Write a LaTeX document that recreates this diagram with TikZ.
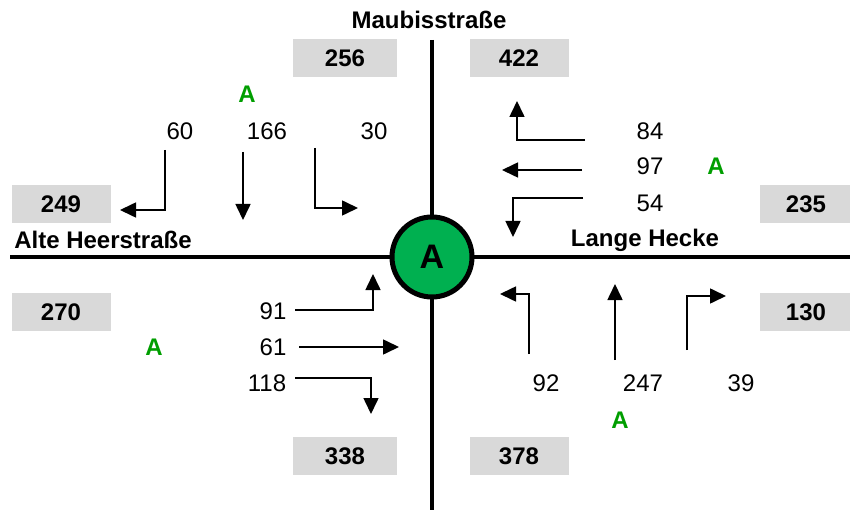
\documentclass[tikz,border=0pt]{standalone}
\usepackage{fontspec}
\setmainfont{Liberation Sans}
\usetikzlibrary{arrows.meta}
\definecolor{boxgray}{HTML}{D9D9D9}
\definecolor{nodegreen}{HTML}{00B050}
\definecolor{labelgreen}{HTML}{009E00}
\tikzset{
  road/.style={line width=4pt},
  flow/.style={line width=1.6pt, -{Triangle[length=16pt,width=15pt]}},
  count/.style={font=\fontsize{24}{24}\selectfont, inner sep=0pt},
  streetname/.style={font=\fontsize{24}{24}\selectfont\bfseries, inner sep=0pt},
  totalbox/.style={fill=boxgray, minimum width=99pt, minimum height=38pt, inner sep=0pt,
    font=\fontsize{24}{24}\selectfont\bfseries},
  tag/.style={font=\fontsize{24}{24}\selectfont\bfseries, text=labelgreen, inner sep=0pt},
  junction/.style={circle, draw, line width=5pt, fill=nodegreen, minimum size=80pt,
    inner sep=0pt, font=\fontsize{34}{34}\selectfont\bfseries}
}
\begin{document}
\begin{tikzpicture}[x=1pt,y=-1pt]
\useasboundingbox (0,0) rectangle (850,510);

% roads
\coordinate (nEnd) at (432,40);
\coordinate (sEnd) at (432,510);
\coordinate (wEnd) at (10,257);
\coordinate (eEnd) at (850,257);
\draw[road] (nEnd) -- (sEnd);
\draw[road] (wEnd) -- (eEnd);
\node[junction] (J) at (432,257) {A};

% street names
\node[streetname] (nName) at (429,20) {Maubisstraße};
\node[streetname] (wName) at (103,240) {Alte Heerstraße};
\node[streetname] (eName) at (645,240) {Lange Hecke};

% approach and exit totals
\node[totalbox, minimum width=104pt] (b256) at (345,58) {256};
\node[totalbox] (b422) at (519,58) {422};
\node[totalbox] (b249) at (61,204) {249};
\node[totalbox, minimum width=92pt] (b235) at (806,204) {235};
\node[totalbox] (b270) at (61,312) {270};
\node[totalbox, minimum width=92pt] (b130) at (806,312) {130};
\node[totalbox, minimum width=104pt] (b338) at (345,456) {338};
\node[totalbox] (b378) at (519,456) {378};

% green markers
\node[tag] (tN) at (247,94) {A};
\node[tag] (tE) at (716,166) {A};
\node[tag] (tW) at (154,347) {A};
\node[tag] (tS) at (620,420) {A};

% north approach
\node[count] (n60) at (180,131) {60};
\node[count] (n166) at (267,131) {166};
\node[count] (n30) at (374,131) {30};
\coordinate (nL0) at (165,150); \coordinate (nL1) at (165,210); \coordinate (nL2) at (120,210);
\coordinate (nT0) at (243,152); \coordinate (nT1) at (243,220);
\coordinate (nR0) at (315,148); \coordinate (nR1) at (315,208); \coordinate (nR2) at (358,208);
\draw[flow] (nL0) -- (nL1) -- (nL2);
\draw[flow] (nT0) -- (nT1);
\draw[flow] (nR0) -- (nR1) -- (nR2);

% east approach
\node[count] (e84) at (650,131) {84};
\node[count] (e97) at (650,166) {97};
\node[count] (e54) at (650,203) {54};
\coordinate (eR0) at (585,140); \coordinate (eR1) at (517,140); \coordinate (eR2) at (517,101);
\coordinate (eT0) at (582,170); \coordinate (eT1) at (502,170);
\coordinate (eL0) at (583,198); \coordinate (eL1) at (513,198); \coordinate (eL2) at (513,237);
\draw[flow] (eR0) -- (eR1) -- (eR2);
\draw[flow] (eT0) -- (eT1);
\draw[flow] (eL0) -- (eL1) -- (eL2);

% west approach
\node[count] (w91) at (273,311) {91};
\node[count] (w61) at (273,347) {61};
\node[count] (w118) at (267,383) {118};
\coordinate (wL0) at (295,310); \coordinate (wL1) at (373,310); \coordinate (wL2) at (373,274);
\coordinate (wT0) at (299,347); \coordinate (wT1) at (399,347);
\coordinate (wR0) at (295,378); \coordinate (wR1) at (371,378); \coordinate (wR2) at (371,414);
\draw[flow] (wL0) -- (wL1) -- (wL2);
\draw[flow] (wT0) -- (wT1);
\draw[flow] (wR0) -- (wR1) -- (wR2);

% south approach
\node[count] (s92) at (546,383) {92};
\node[count] (s247) at (643,383) {247};
\node[count] (s39) at (741,383) {39};
\coordinate (sR0) at (529,354); \coordinate (sR1) at (529,294); \coordinate (sR2) at (500,294);
\coordinate (sT0) at (615,360); \coordinate (sT1) at (615,284);
\coordinate (sL0) at (687,350); \coordinate (sL1) at (687,296); \coordinate (sL2) at (726,296);
\draw[flow] (sR0) -- (sR1) -- (sR2);
\draw[flow] (sT0) -- (sT1);
\draw[flow] (sL0) -- (sL1) -- (sL2);
\end{tikzpicture}
\end{document}
